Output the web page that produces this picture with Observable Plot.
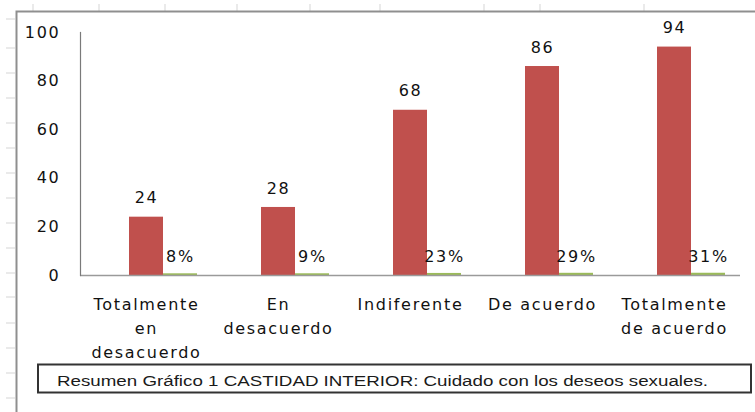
<!DOCTYPE html>
<html>
<head>
<meta charset="utf-8">
<script src="https://cdn.jsdelivr.net/npm/d3@7"></script>
<script src="https://cdn.jsdelivr.net/npm/@observablehq/plot@0.6"></script>
<style>
  html, body { margin: 0; padding: 0; background: #fff; }
  #wrap { position: relative; width: 755px; height: 412px; overflow: hidden; background: #fff; }
  #deco { position: absolute; left: 0; top: 0; }
  #chart { position: absolute; left: 0; top: 0; }
</style>
</head>
<body>
<div id="wrap">
  <svg id="deco" width="755" height="412"></svg>
  <div id="chart"></div>
</div>
<script>
// ---- data ----
const categories = [
  "Totalmente\nen\ndesacuerdo",
  "En\ndesacuerdo",
  "Indiferente",
  "De acuerdo",
  "Totalmente\nde acuerdo"
];
const counts = [24, 28, 68, 86, 94];
const percents = [0.08, 0.09, 0.23, 0.29, 0.31];
const seriesSlots = ["blank", "count", "pct"];
const yTicks = [0, 20, 40, 60, 80, 100];
const captionText = "Resumen  Gráfico 1 CASTIDAD INTERIOR: Cuidado con los deseos sexuales.";

const countRows = categories.map((c, i) => ({cat: c, slot: "count", value: counts[i]}));
const pctRows = categories.map((c, i) => ({cat: c, slot: "pct", value: percents[i]}));

// ---- decoration (spreadsheet background, chart border, caption box) ----
const deco = d3.select("#deco");
[19, 48, 73, 98, 123, 148, 173, 198, 223, 248, 273, 297, 323, 348, 373, 398].forEach(y => {
  deco.append("line").attr("x1", 6).attr("x2", 15).attr("y1", y).attr("y2", y)
    .attr("stroke", "#dcdcdc").attr("stroke-width", 1.2);
});
[33, 99, 165, 237, 310, 380, 484, 540, 644].forEach(x => {
  deco.append("line").attr("x1", x).attr("x2", x).attr("y1", 4).attr("y2", 11)
    .attr("stroke", "#dcdcdc").attr("stroke-width", 1.2);
});
deco.append("path").attr("d", "M16.5,412 V11.5 H755")
  .attr("fill", "none").attr("stroke", "#8f8f8f").attr("stroke-width", 2);
deco.append("rect").attr("x", 38).attr("y", 364.5).attr("width", 713).attr("height", 28)
  .attr("fill", "#fff").attr("stroke", "#333").attr("stroke-width", 2);
deco.append("text").attr("x", 57).attr("y", 386)
  .attr("font-family", "'Liberation Sans Narrow', 'Liberation Sans', sans-serif")
  .attr("font-size", 15.5).attr("fill", "#1a1a1a")
  .attr("textLength", 651).attr("lengthAdjust", "spacingAndGlyphs")
  .text(captionText);

// ---- chart ----
const txtColor = "#111";
const fs = 16;
const chart = Plot.plot({
  width: 755,
  height: 362,
  marginLeft: 79,
  marginRight: 15,
  marginTop: 32,
  marginBottom: 87,
  style: {fontFamily: "'DejaVu Sans', Verdana, sans-serif", fontSize: fs + "px", letterSpacing: "1.7px", color: txtColor, background: "transparent"},
  fx: {domain: categories, padding: 0, label: null},
  x: {domain: seriesSlots, paddingInner: 0, paddingOuter: 0.39, axis: null},
  y: {domain: [0, 100], label: null},
  marks: [
    Plot.barY(countRows, {fx: "cat", x: "slot", y: "value", fill: "#C0504D"}),
    Plot.barY(pctRows, {fx: "cat", x: "slot", y: "value", fill: "#9BBB59", insetTop: -1.5}),
    Plot.ruleY([0], {stroke: "#9a9a9a", strokeWidth: 1.5}),
    Plot.frame({anchor: "left", facetAnchor: "left", stroke: "#7a7a7a", strokeWidth: 1.2}),
    Plot.text(countRows, {fx: "cat", x: "slot", y: "value", text: d => String(d.value), dy: -19, fill: txtColor, fontSize: fs}),
    Plot.text(pctRows, {fx: "cat", x: "slot", y: "value", text: d => Math.round(d.value * 100) + "%", dy: -18, fill: txtColor, fontSize: fs}),
    Plot.axisY({ticks: yTicks, tickSize: 0, tickPadding: 20, label: null, fontSize: fs, tickFormat: d => String(d)}),
    Plot.axisFx({anchor: "bottom", tickSize: 0, tickPadding: 17, label: null, fontSize: fs, lineHeight: 1.5, tickFormat: d => d})
  ]
});
document.getElementById("chart").appendChild(chart);
</script>
</body>
</html>
